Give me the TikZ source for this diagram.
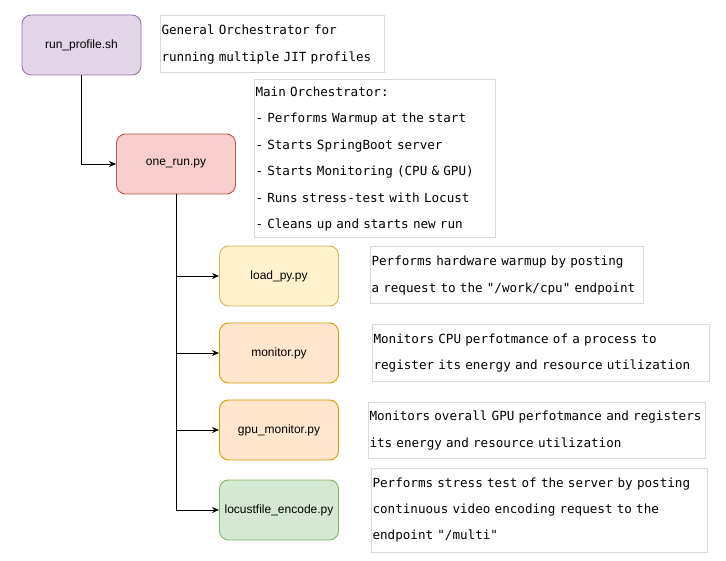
\documentclass[tikz,border=0pt]{standalone}
\usepackage{fontspec}
\setsansfont{Liberation Sans}
\setmonofont{DejaVu Sans Mono}
\usepackage{tikz}
\usetikzlibrary{arrows.meta}
\definecolor{purplefill}{HTML}{E1D5E7}
\definecolor{purpleline}{HTML}{9673A6}
\definecolor{redfill}{HTML}{F8CECC}
\definecolor{redline}{HTML}{B85450}
\definecolor{yellowfill}{HTML}{FFF2CC}
\definecolor{yellowline}{HTML}{D6B656}
\definecolor{orangefill}{HTML}{FFE6CC}
\definecolor{orangeline}{HTML}{D79B00}
\definecolor{greenfill}{HTML}{D5E8D4}
\definecolor{greenline}{HTML}{82B366}
\definecolor{noteline}{HTML}{DADADA}
\tikzset{
    filebox/.style={
        rectangle,
        rounded corners=9pt,
        line width=0.9pt,
        minimum width=119pt,
        minimum height=60pt,
        inner sep=0,
        font=\sffamily\fontsize{12}{14}\selectfont
    },
    notebox/.style={
        rectangle,
        draw=noteline,
        line width=1pt,
        align=left,
        inner xsep=1.5pt,
        inner ysep=0,
        font=\ttfamily\fontsize{12.6}{26.4}\selectfont
    },
    arrow/.style={
        -{Stealth[length=7pt,width=6pt]},
        line width=0.9pt
    }
}
\begin{document}
\begin{tikzpicture}[x=1pt,y=-1pt]
    \useasboundingbox (0,0) rectangle (726,561);
    % scripts
    \node[filebox, draw=purpleline, fill=purplefill] (runprofile) at (81.5,45) {run\_profile.sh};
    \node[filebox, draw=redline, fill=redfill] (onerun) at (176,164) {one\_run.py};
    \node[filebox, draw=yellowline, fill=yellowfill] (loadpy) at (279,276) {load\_py.py};
    \node[filebox, draw=orangeline, fill=orangefill] (monitor) at (279,353) {monitor.py};
    \node[filebox, draw=orangeline, fill=orangefill] (gpumonitor) at (279,430) {gpu\_monitor.py};
    \node[filebox, draw=greenline, fill=greenfill] (locust) at (279,510) {locustfile\_encode.py};
    % descriptions
    \node[notebox, text width=221pt, minimum height=57pt] (noteprofile) at (272,44.5)
        {General Orchestrator for\\running multiple JIT profiles};
    \node[notebox, text width=238pt, minimum height=158pt] (noterun) at (374.5,159)
        {Main Orchestrator:\\- Performs Warmup at the start\\- Starts SpringBoot server\\- Starts Monitoring (CPU \& GPU)\\- Runs stress-test with Locust\\- Cleans up and starts new run};
    \node[notebox, text width=270pt, minimum height=57pt] (noteload) at (506.5,275.5)
        {Performs hardware warmup by posting\\a request to the "/work/cpu" endpoint};
    \node[notebox, text width=334pt, minimum height=57pt] (notemonitor) at (540.5,353)
        {Monitors CPU perfotmance of a process to\\register its energy and resource utilization};
    \node[notebox, text width=334pt, minimum height=56pt] (notegpu) at (536.5,430.5)
        {Monitors overall GPU perfotmance and registers\\its energy and resource utilization};
    \node[notebox, text width=333pt, minimum height=84pt] (notelocust) at (539,510)
        {Performs stress test of the server by posting\\continuous video encoding request to the\\endpoint "/multi"};
    % connections
    \draw[arrow] (runprofile.south) |- (onerun.west);
    \draw[arrow] (onerun.south) |- (loadpy.west);
    \draw[arrow] (onerun.south) |- (monitor.west);
    \draw[arrow] (onerun.south) |- (gpumonitor.west);
    \draw[arrow] (onerun.south) |- (locust.west);
\end{tikzpicture}
\end{document}
